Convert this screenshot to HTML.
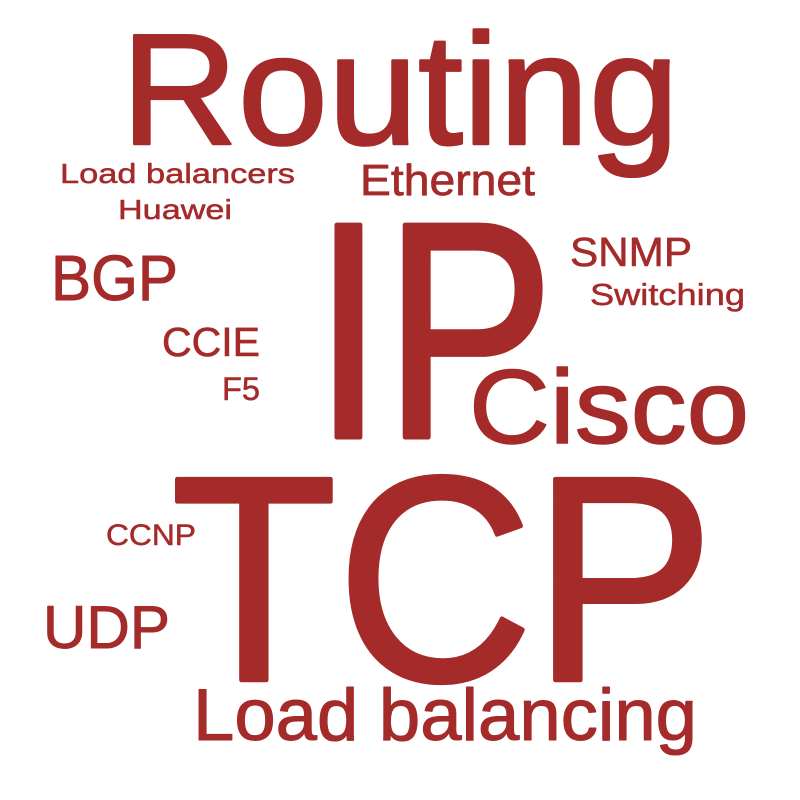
<!DOCTYPE html>
<html><head><meta charset="utf-8"><style>
html,body{margin:0;padding:0;background:#fff;width:800px;height:800px;overflow:hidden}
svg text{font-family:"Liberation Sans",sans-serif;fill:#a52a2a;stroke:#a52a2a;stroke-linejoin:round}
</style></head><body>
<svg width="800" height="800" viewBox="0 0 800 800" xmlns="http://www.w3.org/2000/svg">
<text x="121" y="144" font-size="158" stroke-width="2.5" textLength="558" lengthAdjust="spacingAndGlyphs">Routing</text>
<text x="60" y="183" font-size="28" stroke-width="0.5" textLength="235" lengthAdjust="spacingAndGlyphs">Load balancers</text>
<text x="118" y="219" font-size="28" stroke-width="0.5" textLength="114" lengthAdjust="spacingAndGlyphs">Huawei</text>
<text x="360" y="195" font-size="44" stroke-width="0.7" textLength="175" lengthAdjust="spacingAndGlyphs">Ethernet</text>
<text x="51" y="300" font-size="64" stroke-width="1" textLength="127" lengthAdjust="spacingAndGlyphs">BGP</text>
<text x="162" y="356" font-size="41" stroke-width="0.6" textLength="98" lengthAdjust="spacingAndGlyphs">CCIE</text>
<text x="222" y="400" font-size="32" stroke-width="0.5" textLength="38" lengthAdjust="spacingAndGlyphs">F5</text>
<text x="570" y="266" font-size="41" stroke-width="0.6" textLength="122" lengthAdjust="spacingAndGlyphs">SNMP</text>
<text x="590" y="305" font-size="31" stroke-width="0.5" textLength="155" lengthAdjust="spacingAndGlyphs">Switching</text>
<text x="313" y="437" font-size="308" stroke-width="5" textLength="241" lengthAdjust="spacingAndGlyphs">IP</text>
<text x="469" y="443" font-size="105" stroke-width="1.6" textLength="280" lengthAdjust="spacingAndGlyphs">Cisco</text>
<text x="171" y="680" font-size="292" stroke-width="4.5" textLength="543" lengthAdjust="spacingAndGlyphs">TCP</text>
<text x="106" y="545" font-size="30" stroke-width="0.5" textLength="90" lengthAdjust="spacingAndGlyphs">CCNP</text>
<text x="43" y="648" font-size="60" stroke-width="0.9" textLength="127" lengthAdjust="spacingAndGlyphs">UDP</text>
<text x="193" y="740" font-size="73" stroke-width="1.1" textLength="504" lengthAdjust="spacingAndGlyphs">Load balancing</text>
</svg>
</body></html>
